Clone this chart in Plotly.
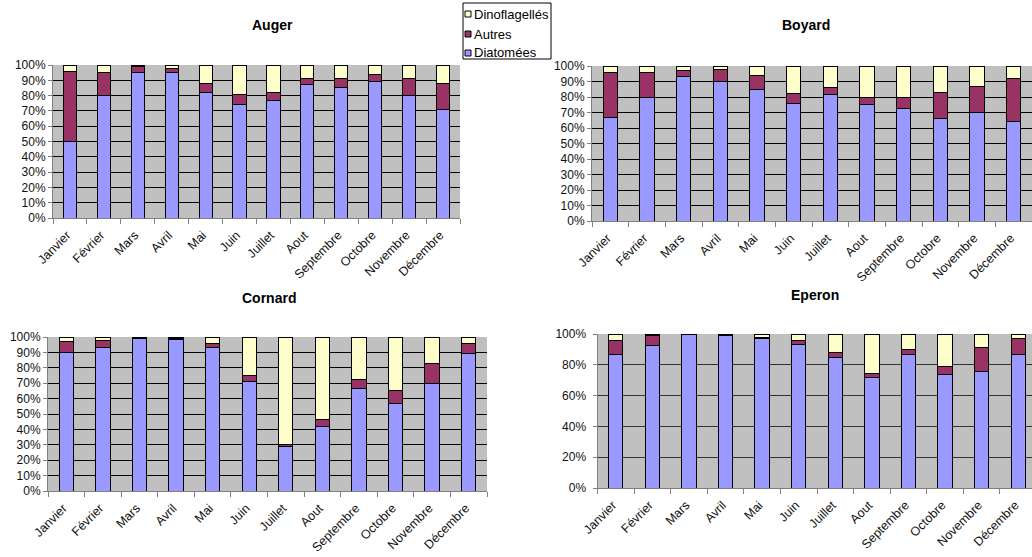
import plotly.graph_objects as go

# Months on the category axis
months = ["Janvier", "Février", "Mars", "Avril", "Mai", "Juin", "Juillet",
          "Aout", "Septembre", "Octobre", "Novembre", "Décembre"]

# Shares (%) of each phytoplankton group per month, one set per station
auger_diatomees = [50, 80, 95, 95, 82, 74, 77, 87, 85, 89, 80, 71]
auger_autres = [46, 15, 4, 3, 6, 7, 5, 4, 6, 5, 11, 17]
auger_dinoflagelles = [4, 5, 1, 2, 12, 19, 18, 9, 9, 6, 9, 12]

boyard_diatomees = [67, 80, 93, 90, 85, 76, 81.5, 75, 72.5, 66, 70, 64]
boyard_autres = [29, 16, 4, 8, 9, 6, 4.5, 5, 7, 17, 17, 28]
boyard_dinoflagelles = [4, 4, 3, 2, 6, 18, 14, 20, 20.5, 17, 13, 8]

cornard_diatomees = [90, 93, 99, 98.5, 93.5, 71, 29, 42, 66.5, 57, 70, 89]
cornard_autres = [7, 5, 0.7, 0.8, 2.5, 4, 1.5, 4.5, 6, 8.5, 12.5, 7]
cornard_dinoflagelles = [3, 2, 0.3, 0.7, 4, 25, 69.5, 53.5, 27.5, 34.5, 17.5, 4]

eperon_diatomees = [87, 92.5, 99.4, 99, 97, 93, 85, 72, 87, 74, 75.5, 87]
eperon_autres = [9, 6.5, 0.4, 0.8, 1, 2.5, 3, 2.5, 3, 5, 15.5, 10]
eperon_dinoflagelles = [4, 1, 0.2, 0.2, 2, 4.5, 12, 25.5, 10, 21, 9, 3]

group_names = ["Diatomées", "Autres", "Dinoflagellés"]
group_colors = ["#9999FF", "#993366", "#FFFFCC"]

W, H = 1032, 557


def px_x(x):
    return x / W


def px_y(y):
    return 1 - y / H


# (name, series, x-domain px, y-domain px, x range, y dtick, y label gap, title pos px)
panels = [
    ("Auger", [auger_diatomees, auger_autres, auger_dinoflagelles],
     (53, 460), (65, 218), [-0.5, 11.5], 10, 0, (272, 25)),
    ("Boyard", [boyard_diatomees, boyard_autres, boyard_dinoflagelles],
     (592, 1032), (66, 221), [-0.5, 11.5], 10, 0, (806, 25)),
    ("Cornard", [cornard_diatomees, cornard_autres, cornard_dinoflagelles],
     (48, 487), (337, 491), [-0.5, 11.5], 10, 0, (269, 298)),
    ("Eperon", [eperon_diatomees, eperon_autres, eperon_dinoflagelles],
     (597.5, 1032), (334, 488), [-0.5, 11.377], 20, 4, (815, 295)),
]

fig = go.Figure()
font_family = "Liberation Sans, Arial, sans-serif"
annotations = []
shapes = []

for i, (station, series, xd, yd, xr, dtick, ygap, tpos) in enumerate(panels):
    sfx = "" if i == 0 else str(i + 1)
    for vals, name, color in zip(series, group_names, group_colors):
        fig.add_trace(go.Bar(
            x=months, y=vals, name=name,
            xaxis="x" + sfx, yaxis="y" + sfx,
            marker=dict(color=color, line=dict(color="#000000", width=1)),
            width=0.39, showlegend=False,
        ))
    fig.update_layout(**{
        "xaxis" + sfx: dict(
            domain=[px_x(xd[0]), px_x(xd[1])], anchor="y" + sfx,
            type="category", range=xr, tickson="boundaries",
            ticks="outside", ticklen=5, tickcolor="#808080",
            showline=True, linecolor="#808080", linewidth=1,
            showgrid=False, tickangle=-45, automargin=False,
            ticklabelstandoff=4, ticklabelshift=-3,
            tickfont=dict(family=font_family, size=12.5, color="#111111"),
        ),
        "yaxis" + sfx: dict(
            domain=[px_y(yd[1]), px_y(yd[0])], anchor="x" + sfx,
            range=[0, 100], dtick=dtick, ticksuffix="%",
            ticks="outside", ticklen=4, tickcolor="#808080",
            showline=True, linecolor="#808080", linewidth=1,
            showgrid=True, gridcolor="#000000" if dtick == 10 else "#333333",
            gridwidth=1, zeroline=False, automargin=False,
            ticklabelstandoff=ygap,
            tickfont=dict(family=font_family, size=12, color="#111111"),
        ),
    })
    annotations.append(dict(
        text="<b>" + station + "</b>", x=px_x(tpos[0]), y=px_y(tpos[1]),
        xref="paper", yref="paper", showarrow=False,
        xanchor="center", yanchor="middle",
        font=dict(family=font_family, size=14, color="#000000"),
    ))

# Shared legend box (top to bottom: Dinoflagellés, Autres, Diatomées)
shapes.append(dict(type="rect", xref="paper", yref="paper",
                   x0=px_x(463), x1=px_x(551), y0=px_y(59), y1=px_y(3),
                   line=dict(color="#000000", width=1), fillcolor="#FFFFFF"))
legend_rows = [(2, 14), (1, 34), (0, 53)]
for idx, ypix in legend_rows:
    shapes.append(dict(type="rect", xref="paper", yref="paper",
                       x0=px_x(465), x1=px_x(471),
                       y0=px_y(ypix + 3), y1=px_y(ypix - 3),
                       line=dict(color="#000000", width=1),
                       fillcolor=group_colors[idx]))
    annotations.append(dict(
        text=group_names[idx], x=px_x(472), y=px_y(ypix),
        xref="paper", yref="paper", showarrow=False,
        xanchor="left", yanchor="middle",
        font=dict(family=font_family, size=13, color="#000000"),
    ))

fig.update_layout(
    template="none",
    width=W, height=H, margin=dict(l=0, r=0, t=0, b=0, pad=0),
    barmode="stack", plot_bgcolor="#C0C0C0", paper_bgcolor="#FFFFFF",
    showlegend=False, annotations=annotations, shapes=shapes,
)

fig.write_html("out.html")
